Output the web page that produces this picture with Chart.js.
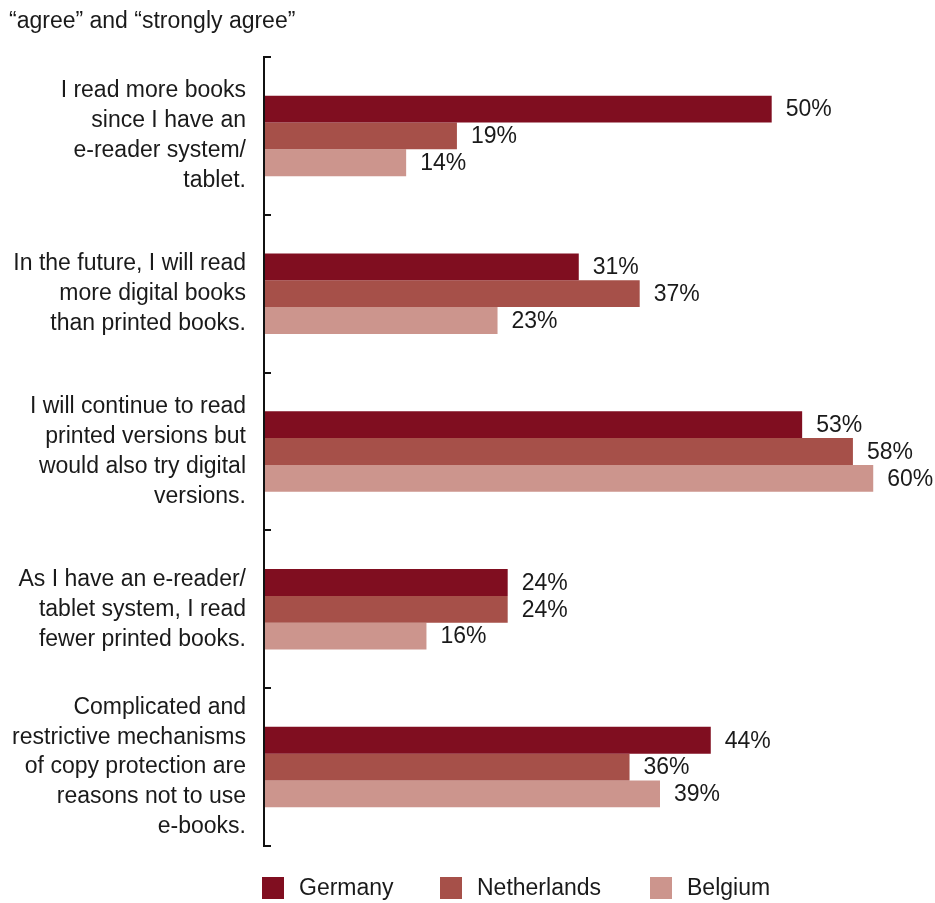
<!DOCTYPE html>
<html>
<head>
<meta charset="utf-8">
<script src="https://cdn.jsdelivr.net/npm/chart.js@4.4.1/dist/chart.umd.min.js"></script>
<style>
  html, body { margin: 0; padding: 0; background: #fff; }
  #wrap { position: relative; width: 935px; height: 903px; }
  #title {
    position: absolute; left: 9px; top: 7px;
    font: 23px "Liberation Sans", Arial, sans-serif; color: #1a1a1a;
  }
  canvas { position: absolute; left: 0; top: 0; }
</style>
</head>
<body>
<div id="wrap">
  <canvas id="chart" width="935" height="903"></canvas>
  <div id="title">“agree” and “strongly agree”</div>
</div>
<script>
// Survey statements (multi-line labels)
const categories = [
    ['I read more books', 'since I have an', 'e-reader system/', 'tablet.'],
    ['In the future, I will read', 'more digital books', 'than printed books.'],
    ['I will continue to read', 'printed versions but', 'would also try digital', 'versions.'],
    ['As I have an e-reader/', 'tablet system, I read', 'fewer printed books.'],
    ['Complicated and', 'restrictive mechanisms', 'of copy protection are', 'reasons not to use', 'e-books.']
];
const seriesNames = ['Germany', 'Netherlands', 'Belgium'];
const germany = [50, 31, 53, 24, 44];
const netherlands = [19, 37, 58, 24, 36];
const belgium = [14, 23, 60, 16, 39];

const colors = ['#800e20', '#a65049', '#cc958d'];
const FONT = '"Liberation Sans", Arial, sans-serif';
const TEXT = '#1a1a1a';

// Axis line with inward ticks at category boundaries
const axisPlugin = {
    id: 'axisLine',
    afterDraw(chart) {
        const ctx = chart.ctx;
        const y = chart.scales.y;
        const x0 = chart.chartArea.left;
        ctx.save();
        ctx.strokeStyle = '#111';
        ctx.lineWidth = 2;
        ctx.beginPath();
        ctx.moveTo(x0, y.getPixelForValue(-0.5));
        ctx.lineTo(x0, y.getPixelForValue(categories.length - 0.5));
        ctx.stroke();
        for (let i = 0; i <= categories.length; i++) {
            const py = Math.round(y.getPixelForValue(i - 0.5));
            ctx.beginPath();
            ctx.moveTo(x0 - 1, py);
            ctx.lineTo(x0 + 7, py);
            ctx.stroke();
        }
        ctx.restore();
    }
};

// Percent labels at bar ends
const valueLabels = {
    id: 'valueLabels',
    afterDatasetsDraw(chart) {
        const ctx = chart.ctx;
        ctx.save();
        ctx.font = '23px ' + FONT;
        ctx.fillStyle = TEXT;
        ctx.textAlign = 'left';
        ctx.textBaseline = 'middle';
        chart.data.datasets.forEach((ds, di) => {
            chart.getDatasetMeta(di).data.forEach((bar, i) => {
                ctx.fillText(ds.data[i] + '%', bar.x + 14, bar.y + 1);
            });
        });
        ctx.restore();
    }
};

// Legend drawn under the plot
const legendPlugin = {
    id: 'bottomLegend',
    afterDraw(chart) {
        const ctx = chart.ctx;
        const starts = [262, 440, 650];
        const top = 877;
        ctx.save();
        ctx.font = '23px ' + FONT;
        ctx.textBaseline = 'middle';
        chart.data.datasets.forEach((ds, i) => {
            ctx.fillStyle = ds.backgroundColor;
            ctx.fillRect(starts[i], top, 22, 22);
            ctx.fillStyle = TEXT;
            ctx.fillText(ds.label, starts[i] + 37, top + 12);
        });
        ctx.restore();
    }
};

new Chart(document.getElementById('chart'), {
    type: 'bar',
    data: {
        labels: categories,
        datasets: [
            { label: seriesNames[0], data: germany, backgroundColor: colors[0] },
            { label: seriesNames[1], data: netherlands, backgroundColor: colors[1] },
            { label: seriesNames[2], data: belgium, backgroundColor: colors[2] }
        ]
    },
    options: {
        indexAxis: 'y',
        responsive: false,
        animation: false,
        layout: { padding: { left: 0, right: 11, top: 57, bottom: 57 } },
        datasets: { bar: { categoryPercentage: 0.51, barPercentage: 1, borderWidth: 0 } },
        scales: {
            x: { display: false, min: 0, max: 65 },
            y: {
                grid: { display: false, drawTicks: false },
                border: { display: false },
                afterFit(scale) {
                    scale.width = 264;
                    scale.paddingTop = 0;
                    scale.paddingBottom = 0;
                },
                ticks: {
                    color: TEXT,
                    padding: 18,
                    font: { family: FONT, size: 23, lineHeight: 1.3 }
                }
            }
        },
        plugins: {
            legend: { display: false },
            tooltip: { enabled: false },
            title: { display: false }
        }
    },
    plugins: [axisPlugin, valueLabels, legendPlugin]
});
</script>
</body>
</html>
